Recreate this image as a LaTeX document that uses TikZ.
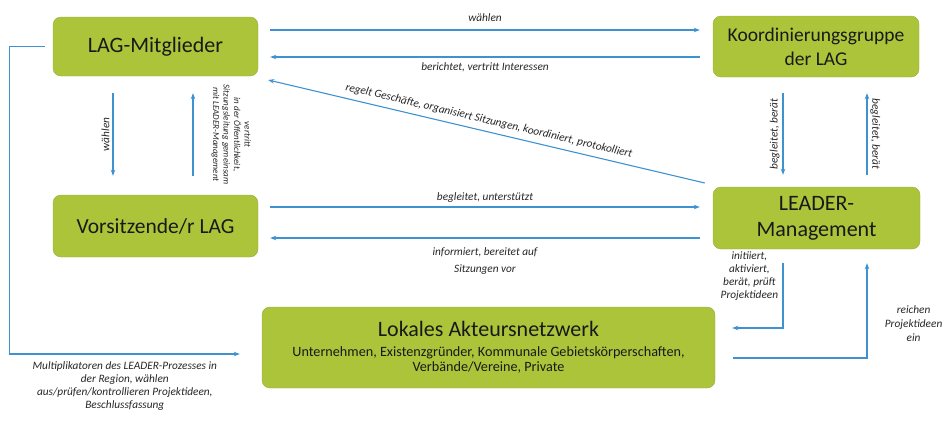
\documentclass[tikz,border=0pt]{standalone}
\usepackage{fontspec}
\setmainfont{Carlito}
\usepackage{xcolor}
\usetikzlibrary{arrows.meta}
\definecolor{boxgreen}{RGB}{172,196,58}
\definecolor{boxline}{RGB}{150,172,62}
\definecolor{arrowblue}{RGB}{62,146,207}
\newcommand\titletxt{\fontsize{22}{24}\selectfont}

\begin{document}
\begin{tikzpicture}[x=1pt,y=-1pt,
 box/.style={draw=boxline,fill=boxgreen,rounded corners=8pt,inner sep=0pt,align=center,text=black!90,font=\fontsize{22}{26}\selectfont},
 arr/.style={draw=arrowblue,line width=1.1pt,-{Stealth[length=6pt,width=4.5pt]}},
 lbl/.style={font=\fontsize{11.3}{13}\selectfont\itshape,align=center,text=black!85},
 vlbl/.style={lbl,anchor=south,inner sep=3pt}]
\useasboundingbox(0,0)rectangle(946,423);
% boxes
\node[box,minimum width=205pt,minimum height=59pt](lag)at(155.5,46.5){LAG-Mitglieder};
\node[box,minimum width=206pt,minimum height=61pt,font=\fontsize{19.5}{24}\selectfont](koord)at(816,46.5){Koordinierungsgruppe\\der LAG};
\node[box,minimum width=205pt,minimum height=62pt,font=\fontsize{21.5}{26}\selectfont](vors)at(155.5,226){Vorsitzende/r LAG};
\node[box,minimum width=207pt,minimum height=62pt,font=\fontsize{22}{26}\selectfont](leader)at(816.5,218){LEADER-\\Management};
\node[box,minimum width=453pt,minimum height=81pt,font=\fontsize{14.2}{15}\selectfont](netz)at(488.5,347.5){\titletxt Lokales Akteursnetzwerk\\[5pt]Unternehmen, Existenzgründer, Kommunale Gebietskörperschaften,\\Verbände/Vereine, Private};
% top row
\draw[arr]([shift={(12,-16.5)}]lag.east)--([shift={(-13,-16.5)}]koord.west)node[midway,above=5pt,lbl]{wählen};
\draw[arr]([shift={(-13,10.5)}]koord.west)--([shift={(12,10.5)}]lag.east)node[midway,below=2pt,lbl]{berichtet, vertritt Interessen};
\draw[arr]([shift={(-8,-35)}]leader.west)--([shift={(10,33.5)}]lag.east)node[midway,above=2pt,sloped,lbl]{regelt Geschäfte, organisiert Sitzungen, koordiniert, protokolliert};
% middle row
\draw[arr]([shift={(12,-19)}]vors.east)--([shift={(-13,-11)}]leader.west)node[midway,above=1pt,lbl]{begleitet, unterstützt};
\draw[arr]([shift={(-13,20)}]leader.west)--([shift={(12,12)}]vors.east)node[midway,below=6pt,lbl]{informiert, bereitet auf\\[4pt]Sitzungen vor};
% verticals
\draw[arr]([shift={(-42.5,17)}]lag.south)--([shift={(-42.5,-19)}]vors.north)node[midway,vlbl,rotate=90]{wählen};
\draw[arr]([shift={(37.5,-19)}]vors.north)--([shift={(37.5,17)}]lag.south)node[midway,vlbl,rotate=-90,inner sep=18pt,font=\fontsize{9}{10.5}\selectfont\itshape]{vertritt\\in der Öffentlichkeit,\\Sitzungsleitung gemeinsam\\mit LEADER-Management};
\draw[arr]([shift={(-33,16)}]koord.south)--([shift={(-33.5,-12)}]leader.north)node[midway,vlbl,rotate=90]{begleitet, berät};
\draw[arr]([shift={(50.5,-12)}]leader.north)--([shift={(51,16)}]koord.south)node[midway,vlbl,rotate=-90]{begleitet, berät};
% bottom
\draw[arr]([shift={(-33.5,14)}]leader.south)|-([shift={(17,-19.5)}]netz.east)node[pos=.1,left=1pt,lbl]{initiiert,\\aktiviert,\\berät, prüft\\Projektideen};
\draw[arr]([shift={(18,10.5)}]netz.east)-|([shift={(50.5,14)}]leader.south)node[pos=.68,right=14pt,lbl]{reichen\\[1pt]Projektideen\\[1pt]ein};
\draw[arr]([xshift=-8pt]lag.west)--++(-35,0)|-([shift={(-22,6.5)}]netz.west)node[pos=.75,below=4pt,lbl]{Multiplikatoren des LEADER-Prozesses in\\der Region, wählen\\aus/prüfen/kontrollieren Projektideen,\\Beschlussfassung};
\end{tikzpicture}
\end{document}
